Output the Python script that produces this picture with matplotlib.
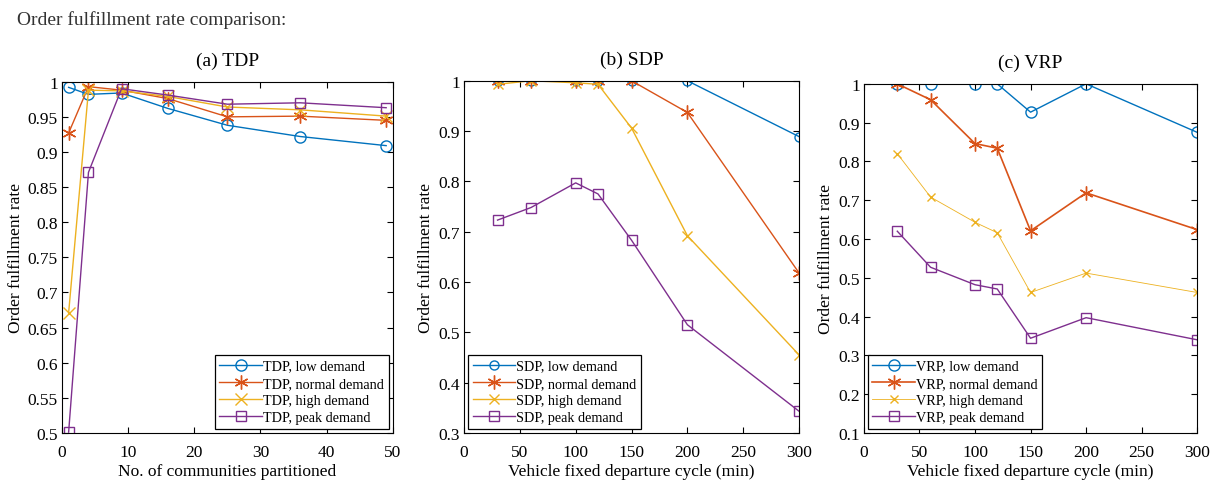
"""
Order fulfillment rate comparison for TDP, SDP and VRP.
"""

import matplotlib
matplotlib.use('Agg')
import matplotlib.pyplot as plt

plt.rcParams['font.family'] = ['Liberation Serif', 'DejaVu Serif']
plt.rcParams['mathtext.fontset'] = 'stix'

# data
tdp_x = [1, 4, 9, 16, 25, 36, 49]
tdp_low = [0.992, 0.982, 0.984, 0.962, 0.938, 0.922, 0.909]
tdp_normal = [0.927, 0.993, 0.988, 0.976, 0.950, 0.951, 0.945]
tdp_high = [0.671, 0.988, 0.987, 0.979, 0.964, 0.960, 0.951]
tdp_peak = [0.501, 0.871, 0.990, 0.981, 0.968, 0.970, 0.963]

cycle_x = [30, 60, 100, 120, 150, 200, 300]
sdp_low = [1.0, 1.0, 1.0, 1.0, 1.0, 1.0, 0.889]
sdp_normal = [1.0, 1.0, 1.0, 1.0, 1.0, 0.937, 0.618]
sdp_high = [0.993, 1.0, 0.996, 0.993, 0.906, 0.692, 0.455]
sdp_peak = [0.723, 0.748, 0.797, 0.775, 0.683, 0.515, 0.343]

vrp_low = [1.0, 1.0, 1.0, 1.0, 0.927, 1.0, 0.875]
vrp_normal = [1.0, 0.959, 0.846, 0.834, 0.621, 0.719, 0.624]
vrp_high = [0.820, 0.708, 0.643, 0.616, 0.462, 0.512, 0.462]
vrp_peak = [0.620, 0.527, 0.482, 0.471, 0.344, 0.397, 0.340]

demand_names = ['low demand', 'normal demand', 'high demand', 'peak demand']
colors = ['#0072BD', '#D95319', '#EDB120', '#7E2F8E']
markers = ['o', (6, 2, 0), 'x', 's']

fig = plt.figure(figsize=(12.16, 4.81), dpi=100)
fig.text(0.014, 0.958, 'Order fulfillment rate comparison:', fontsize=14,
         color='#333333', va='center', ha='left')


def style_axes(ax):
    ax.tick_params(direction='in', top=True, right=True, length=4,
                   width=0.8, labelsize=12.5)
    ax.tick_params(axis='x', pad=8)
    ax.tick_params(axis='y', pad=3)
    for s in ax.spines.values():
        s.set_linewidth(0.8)


def draw(ax, xs, series, prefix, msizes, lws, title, xlabel, xlim, ylim,
         yticks, xticks, ytlabels, loc):
    for i in range(4):
        ax.plot(xs, series[i], color=colors[i], marker=markers[i],
                markersize=msizes[i], markerfacecolor='none',
                markeredgewidth=1.0, linewidth=lws[i],
                label=prefix + ', ' + demand_names[i])
    ax.set_xlim(xlim)
    ax.set_ylim(ylim)
    ax.set_xticks(xticks)
    ax.set_xticklabels([str(t) for t in xticks])
    ax.set_yticks(yticks)
    ax.set_yticklabels(ytlabels)
    ax.set_title(title, fontsize=14, pad=12)
    ax.set_xlabel(xlabel, fontsize=12.5, labelpad=2)
    ax.set_ylabel('Order fulfillment rate', fontsize=12.5, labelpad=3)
    leg = ax.legend(loc=loc, fontsize=10.2, frameon=True, fancybox=False,
                    edgecolor='black', framealpha=1, borderpad=0.3,
                    labelspacing=0.3, handlelength=3.0, handletextpad=0.1,
                    borderaxespad=0.3)
    leg.get_frame().set_linewidth(0.9)
    style_axes(ax)


# (a) TDP
ax1 = fig.add_axes([0.051, 0.098, 0.272, 0.730])
a_yt = [0.5, 0.55, 0.6, 0.65, 0.7, 0.75, 0.8, 0.85, 0.9, 0.95, 1.0]
a_yl = ['0.5', '0.55', '0.6', '0.65', '0.7', '0.75', '0.8', '0.85', '0.9',
        '0.95', '1']
draw(ax1, tdp_x, [tdp_low, tdp_normal, tdp_high, tdp_peak], 'TDP',
     [8, 10, 8, 7.5], [1.0, 1.0, 1.0, 1.0], '(a) TDP',
     'No. of communities partitioned', (0, 50), (0.5, 1.0), a_yt,
     [0, 10, 20, 30, 40, 50], a_yl, 'lower right')

# (b) SDP
ax2 = fig.add_axes([0.3816, 0.098, 0.2755, 0.732])
b_yt = [0.3, 0.4, 0.5, 0.6, 0.7, 0.8, 0.9, 1.0]
b_yl = ['0.3', '0.4', '0.5', '0.6', '0.7', '0.8', '0.9', '1']
draw(ax2, cycle_x, [sdp_low, sdp_normal, sdp_high, sdp_peak], 'SDP',
     [6.5, 10, 7, 7.5], [1.0, 1.0, 1.0, 1.0], '(b) SDP',
     'Vehicle fixed departure cycle (min)', (0, 300), (0.3, 1.0), b_yt,
     [0, 50, 100, 150, 200, 250, 300], b_yl, 'lower left')

# (c) VRP
ax3 = fig.add_axes([0.7105, 0.098, 0.274, 0.7256])
c_yt = [0.1, 0.2, 0.3, 0.4, 0.5, 0.6, 0.7, 0.8, 0.9, 1.0]
c_yl = ['0.1', '0.2', '0.3', '0.4', '0.5', '0.6', '0.7', '0.8', '0.9', '1']
draw(ax3, cycle_x, [vrp_low, vrp_normal, vrp_high, vrp_peak], 'VRP',
     [8, 10, 6, 7.5], [1.0, 1.2, 0.6, 1.0], '(c) VRP',
     'Vehicle fixed departure cycle (min)', (0, 300), (0.1, 1.0), c_yt,
     [0, 50, 100, 150, 200, 250, 300], c_yl, 'lower left')

fig.savefig('out.png', dpi=100)
